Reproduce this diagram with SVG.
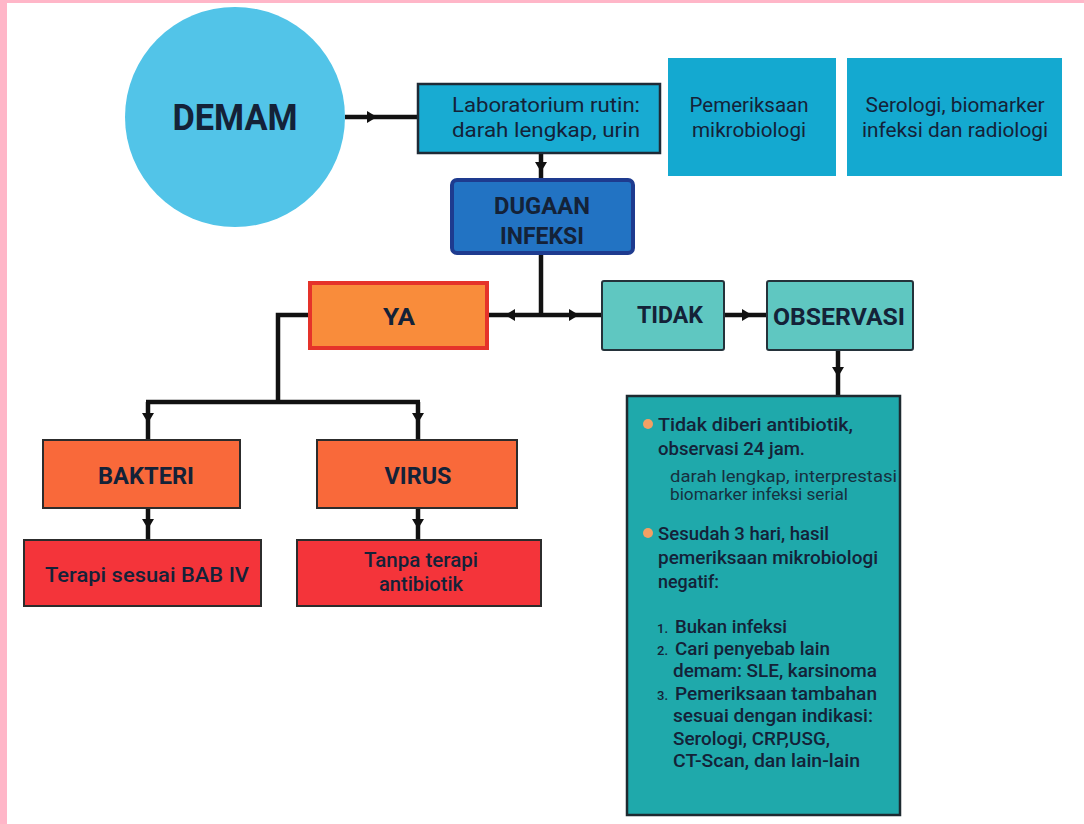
<svg xmlns="http://www.w3.org/2000/svg" width="1084" height="824" viewBox="0 0 1084 824">
<style>
.t{font-family:Roboto,"Liberation Sans",sans-serif;fill:#142238;text-anchor:middle}
.r{font-size:20px;font-weight:400}
.b{font-size:23px;font-weight:700}
.m{font-size:20px;font-weight:500}
.l{font-family:Roboto,"Liberation Sans",sans-serif;fill:#142238;font-size:19px;font-weight:500}
.n{font-family:Roboto,"Liberation Sans",sans-serif;fill:#142238;font-size:13px;font-weight:500}
.s{font-family:Roboto,"Liberation Sans",sans-serif;fill:#16303f;font-size:17px;font-weight:400}
.c{fill:none;stroke:#111;stroke-width:4.5;marker-mid:url(#ah)}
.cn{fill:none;stroke:#111;stroke-width:4.5}
</style>
<defs>
<marker id="ah" viewBox="0 0 10 10" refX="5" refY="5" markerWidth="10" markerHeight="12" markerUnits="userSpaceOnUse" orient="auto" preserveAspectRatio="none">
<path d="M0 0 L10 5 L0 10 z" fill="#111"/>
</marker>
</defs>
<rect x="0" y="0" width="1084" height="824" fill="#ffffff"/>
<rect x="0" y="0" width="7" height="824" fill="#ffb6c8"/>
<rect x="0" y="0" width="1084" height="3" fill="#ffb6c8"/>

<g id="connectors">
<path class="c" d="M345 117 L372 117 L418 117"/>
<path class="c" d="M541 153 L541 167 L541 180"/>
<path class="cn" d="M541 253 L541 315"/>
<path class="c" d="M541 315 L510 315 L487 315"/>
<path class="c" d="M541 315 L574 315 L602 315"/>
<path class="c" d="M724 315 L747 315 L767 315"/>
<path class="c" d="M838 350 L838 372 L838 396"/>
<path class="cn" d="M310 315 L278 315 L278 402"/>
<path class="cn" d="M146 402 L420 402"/>
<path class="c" d="M148 402 L148 418 L148 440"/>
<path class="c" d="M418 402 L418 418 L418 440"/>
<path class="c" d="M148 508 L148 524 L148 540"/>
<path class="c" d="M418 508 L418 524 L418 540"/>
</g>

<g id="demam">
<circle cx="235" cy="117" r="110" fill="#52c4e8"/>
<text class="t" x="235" y="130" style="font-size:36px;font-weight:700" textLength="125" lengthAdjust="spacingAndGlyphs">DEMAM</text>
</g>

<g id="lab">
<rect x="418" y="84" width="242" height="69" fill="#18abd2" stroke="#1e2a36" stroke-width="2.5"/>
<text class="t r" x="546" y="112" textLength="188" lengthAdjust="spacingAndGlyphs">Laboratorium rutin:</text>
<text class="t r" x="546" y="137" textLength="188" lengthAdjust="spacingAndGlyphs">darah lengkap, urin</text>
</g>

<g id="pemeriksaan">
<rect x="668" y="58" width="168" height="118" fill="#14a9d0"/>
<text class="t r" x="749" y="112" textLength="119" lengthAdjust="spacingAndGlyphs">Pemeriksaan</text>
<text class="t r" x="749" y="137" textLength="114" lengthAdjust="spacingAndGlyphs">mikrobiologi</text>
</g>

<g id="serologi">
<rect x="847" y="58" width="215" height="118" fill="#14a9d0"/>
<text class="t r" x="955" y="112" textLength="179" lengthAdjust="spacingAndGlyphs">Serologi, biomarker</text>
<text class="t r" x="955" y="137" textLength="186" lengthAdjust="spacingAndGlyphs">infeksi dan radiologi</text>
</g>

<g id="dugaan">
<rect x="452" y="180" width="181" height="73" rx="5" fill="#2273c3" stroke="#1e3b8f" stroke-width="4"/>
<text class="t b" x="542" y="214" textLength="96" lengthAdjust="spacingAndGlyphs">DUGAAN</text>
<text class="t b" x="542" y="244" textLength="84" lengthAdjust="spacingAndGlyphs">INFEKSI</text>
</g>

<g id="ya">
<rect x="310" y="283" width="177" height="65" fill="#f98c3b" stroke="#e5332a" stroke-width="4"/>
<text class="t b" x="399" y="325" textLength="32" lengthAdjust="spacingAndGlyphs">YA</text>
</g>

<g id="tidak">
<rect x="602" y="281" width="122" height="69" rx="2" fill="#5fc7c1" stroke="#24323a" stroke-width="2"/>
<text class="t b" x="670" y="323" textLength="66" lengthAdjust="spacingAndGlyphs">TIDAK</text>
</g>

<g id="observasi">
<rect x="767" y="281" width="146" height="69" rx="2" fill="#5fc7c1" stroke="#24323a" stroke-width="2"/>
<text class="t b" x="839" y="325" textLength="132" lengthAdjust="spacingAndGlyphs">OBSERVASI</text>
</g>

<g id="bakteri">
<rect x="43" y="440" width="197" height="68" fill="#f9693a" stroke="#2c2c2c" stroke-width="2"/>
<text class="t b" x="146" y="484" textLength="96" lengthAdjust="spacingAndGlyphs">BAKTERI</text>
</g>

<g id="virus">
<rect x="317" y="440" width="200" height="68" fill="#f9693a" stroke="#2c2c2c" stroke-width="2"/>
<text class="t b" x="418" y="484" textLength="67" lengthAdjust="spacingAndGlyphs">VIRUS</text>
</g>

<g id="terapi">
<rect x="24" y="540" width="237" height="66" fill="#f4343a" stroke="#2c2c2c" stroke-width="2"/>
<text class="t m" x="147" y="582" textLength="204" lengthAdjust="spacingAndGlyphs">Terapi sesuai BAB IV</text>
</g>

<g id="tanpa">
<rect x="297" y="540" width="244" height="66" fill="#f4343a" stroke="#2c2c2c" stroke-width="2"/>
<text class="t m" x="421" y="567" textLength="114" lengthAdjust="spacingAndGlyphs">Tanpa terapi</text>
<text class="t m" x="421" y="591" textLength="84" lengthAdjust="spacingAndGlyphs">antibiotik</text>
</g>

<g id="info">
<rect x="627" y="396" width="273" height="419" fill="#1fa9ab" stroke="#1d2a30" stroke-width="2.5"/>
<circle cx="648" cy="424" r="5" fill="#f4a064"/>
<text class="l" x="658" y="431" textLength="195" lengthAdjust="spacingAndGlyphs">Tidak diberi antibiotik,</text>
<text class="l" x="658" y="455" textLength="147" lengthAdjust="spacingAndGlyphs">observasi 24 jam.</text>
<text class="s" x="670" y="482" textLength="227" lengthAdjust="spacingAndGlyphs">darah lengkap, interprestasi</text>
<text class="s" x="670" y="500" textLength="178" lengthAdjust="spacingAndGlyphs">biomarker infeksi serial</text>
<circle cx="648" cy="533" r="5" fill="#f4a064"/>
<text class="l" x="658" y="540" textLength="171" lengthAdjust="spacingAndGlyphs">Sesudah 3 hari, hasil</text>
<text class="l" x="658" y="564" textLength="220" lengthAdjust="spacingAndGlyphs">pemeriksaan mikrobiologi</text>
<text class="l" x="658" y="588" textLength="61" lengthAdjust="spacingAndGlyphs">negatif:</text>
<text class="n" x="657" y="633">1.</text>
<text class="l" x="675" y="633" textLength="112" lengthAdjust="spacingAndGlyphs">Bukan infeksi</text>
<text class="n" x="657" y="655">2.</text>
<text class="l" x="675" y="655" textLength="155" lengthAdjust="spacingAndGlyphs">Cari penyebab lain</text>
<text class="l" x="673" y="677" textLength="204" lengthAdjust="spacingAndGlyphs">demam: SLE, karsinoma</text>
<text class="n" x="657" y="700">3.</text>
<text class="l" x="675" y="700" textLength="202" lengthAdjust="spacingAndGlyphs">Pemeriksaan tambahan</text>
<text class="l" x="673" y="722" textLength="200" lengthAdjust="spacingAndGlyphs">sesuai dengan indikasi:</text>
<text class="l" x="673" y="745" textLength="157" lengthAdjust="spacingAndGlyphs">Serologi, CRP,USG,</text>
<text class="l" x="673" y="767" textLength="187" lengthAdjust="spacingAndGlyphs">CT-Scan, dan lain-lain</text>
</g>
</svg>
